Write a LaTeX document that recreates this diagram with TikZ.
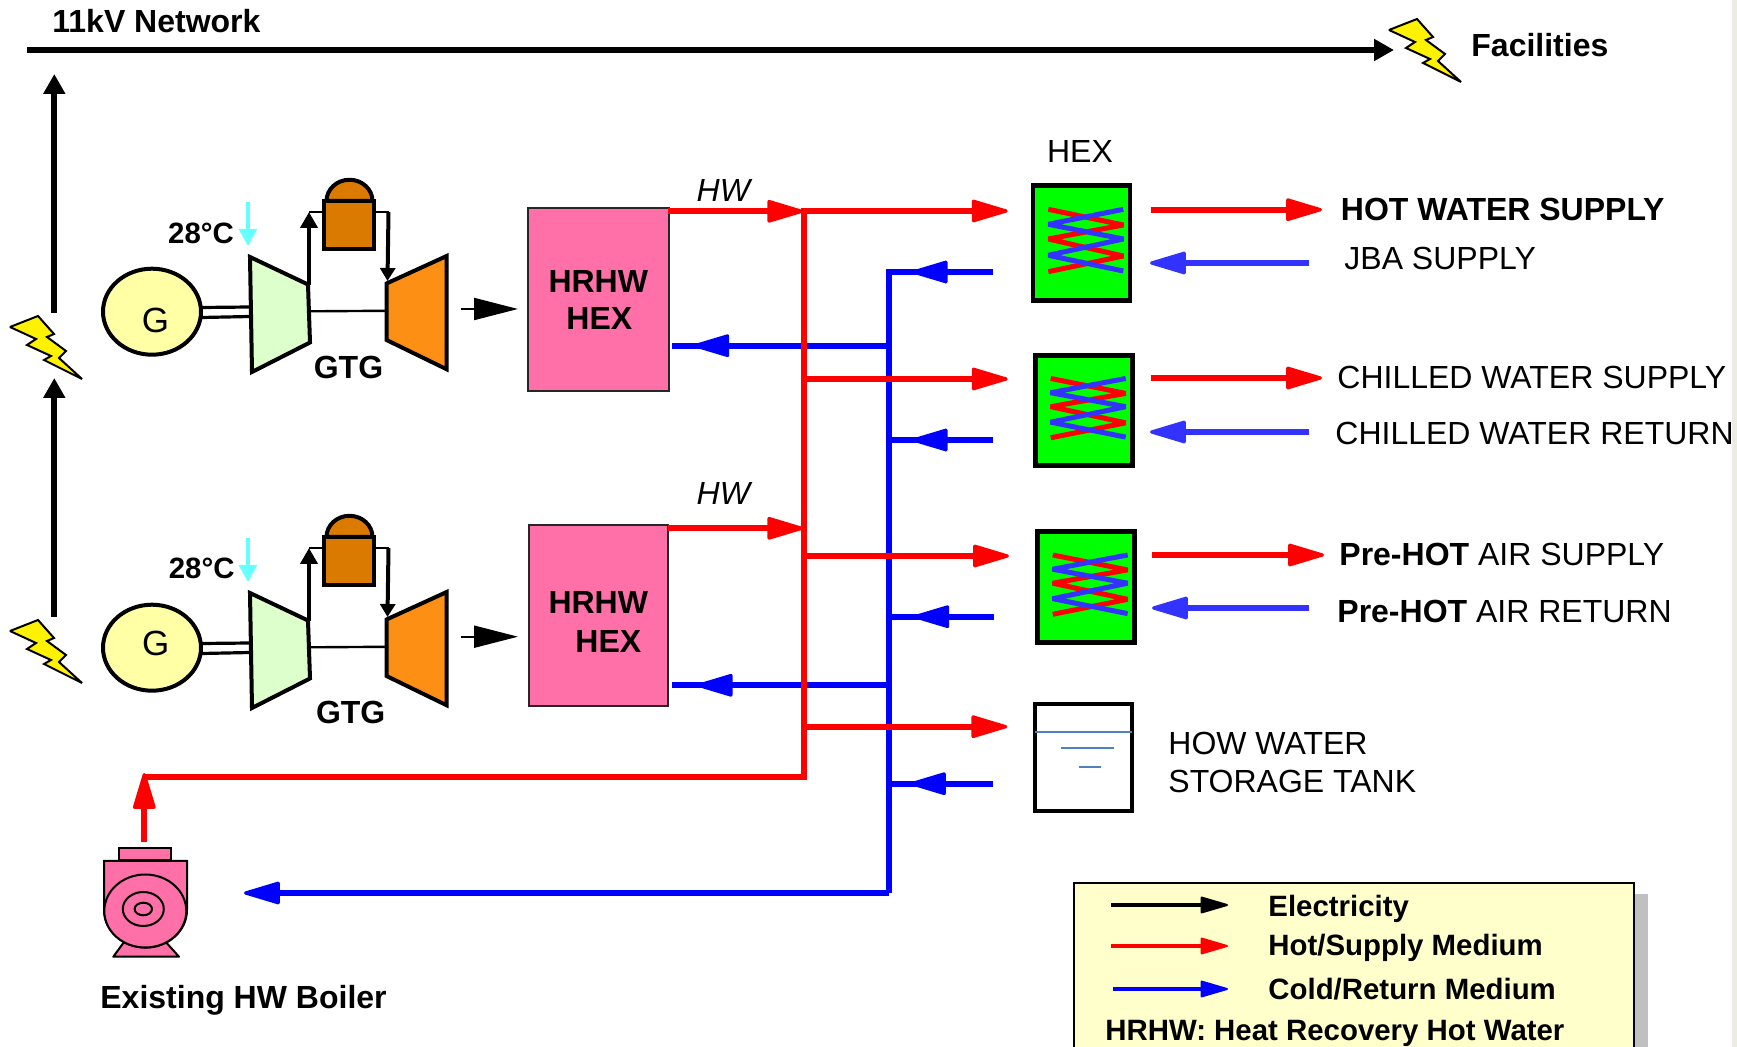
\documentclass[tikz,border=0pt]{standalone}
\usepackage{fontspec}
\setmainfont{Liberation Sans}
\usetikzlibrary{arrows.meta,shapes.geometric}
\definecolor{strip}{HTML}{EEECE1}
\definecolor{genfill}{HTML}{FFFFA6}
\definecolor{compfill}{HTML}{DDFFCC}
\definecolor{turbfill}{HTML}{FC8F14}
\definecolor{combfill}{HTML}{DA7B00}
\definecolor{pinkfill}{HTML}{FF6FA8}
\definecolor{hotred}{HTML}{FF0000}
\definecolor{pipeblue}{HTML}{0000FF}
\definecolor{softblue}{HTML}{3333FF}
\definecolor{coolair}{HTML}{66FFFF}
\definecolor{water}{HTML}{4F81BD}
\definecolor{legfill}{HTML}{FFFFCC}
\definecolor{legshadow}{HTML}{C0C0C0}
\newcommand{\fsz}[1]{\fontsize{#1}{#1}\selectfont}
\tikzset{
  bigtip/.tip={Triangle[length=20pt,width=11.5pt,line width=1.6pt,round]},
  legtip/.tip={Triangle[length=15pt,width=8.5pt,line width=1pt,round]},
  blacktip/.tip={Triangle[length=10pt,width=10.5pt]},
  smalltip/.tip={Triangle[length=8pt,width=8.5pt]},
  exhtip/.tip={Triangle[length=22pt,width=11pt]},
  coolarrow/.tip={Triangle[length=8.5pt,width=9pt]},
  hotpipe/.style={draw=hotred,line width=3pt},
  coldpipe/.style={draw=pipeblue,line width=3pt},
  softcold/.style={draw=softblue,line width=3pt},
  bus/.style={draw=black,line width=3pt},
  lbl/.style={inner sep=0pt,anchor=base west,yshift=-0.5pt,font=\fsz{16}},
  boldlbl/.style={inner sep=0pt,anchor=base west,yshift=-0.5pt,font=\fsz{16}\bfseries},
  leglbl/.style={inner sep=0pt,anchor=base west,font=\fsz{14.7}\bfseries},
  ctr/.style={inner sep=0pt,yshift=-0.5pt,font=\fsz{16}\bfseries},
  bolt/.style={draw=black,fill=yellow,line width=1pt,line join=miter,miter limit=2.5},
  pinkbox/.style={draw=black!85,fill=pinkfill,line width=1pt,rectangle,inner sep=0pt},
  hexbox/.style={draw=black,fill=green,line width=2.2pt,rectangle,inner sep=0pt,minimum width=48.5pt},
  mach/.style={draw=black,line width=2pt,line join=miter},
}
\newcommand{\boltshape}[2]{%
  \begin{scope}[shift={(#1,#2)}]
    \draw[bolt] (0,11) -- (28,0) -- (44,18) -- (37,21) -- (56,35) -- (49,42) -- (72,63) -- (34,44) -- (41,40) -- (17,29) -- (26,23) -- cycle;
  \end{scope}}
\newcommand{\gtgunit}[2]{%
  \begin{scope}[shift={(0,#2)}]
    \draw[draw=black,line width=1.6pt] (202,307.5) -- (250,307);
    \draw[draw=black,line width=1.6pt] (202,317.5) -- (250,316.5);
    \node[ellipse,draw=black,fill=genfill,line width=2pt,inner sep=0pt,minimum width=49pt,minimum height=43pt] (gen#1) at (152,311.7) {};
    \draw[mach,fill=compfill] (250,257) -- (308,284.5) -- (310,342.5) -- (252,372) -- cycle;
    \draw[draw=black,line width=1.2pt] (311,311.3) -- (386,310.8);
    \draw[mach,fill=turbfill] (386.5,283.5) -- (446.7,256) -- (446.7,369.3) -- (386.5,340) -- cycle;
    \draw[draw=black,fill=combfill,line width=2pt] (326.5,201) arc[start angle=180,end angle=0,x radius=11.5pt,y radius=10.6pt] -- cycle;
    \node[rectangle,draw=black,fill=combfill,line width=2pt,inner sep=0pt,minimum width=25pt,minimum height=24.3pt] (comb#1) at (349.4,225) {};
    \coordinate (cmpout#1) at (309,285);
    \coordinate (cmptop#1) at (309,212);
    \coordinate (trbtop#1) at (388.5,212);
    \coordinate (trbin#1) at (387.5,281);
    \draw[draw=black,line width=2.2pt,-{smalltip}] (cmpout#1) -- (cmptop#1);
    \draw[draw=black,line width=1.2pt] (cmptop#1) -- (comb#1.west |- cmptop#1);
    \draw[draw=black,line width=1.2pt] (comb#1.east |- trbtop#1) -- (trbtop#1);
    \draw[draw=black,line width=2pt,-{Triangle[length=6.5pt,width=7.5pt]}] (trbtop#1) -- (trbin#1);
    \coordinate (coolsrc#1) at (248,202);
    \coordinate (cooldst#1) at (248,246);
    \draw[draw=coolair,line width=1.6pt,-{coolarrow}] (coolsrc#1) -- (cooldst#1);
  \end{scope}}
\newcommand{\zigzag}[3]{%
  \begin{scope}[shift={(#1,#2)},yscale=#3]
    \draw[draw=hotred,line width=2.5pt,line join=bevel] (-33.3,-33.7) -- (41.7,-18) -- (-33.3,-4) -- (41.7,13) -- (-33.3,28.7);
    \draw[draw=softblue,line width=2.5pt,line join=bevel] (41.7,-33.7) -- (-33.3,-18.7) -- (41.7,-4) -- (-33.3,12.3) -- (41.7,28);
  \end{scope}}
\begin{document}
\begin{tikzpicture}[x=0.5pt,y=-0.5pt]
\useasboundingbox (0,0) rectangle (1737,1047);
\clip (0,0) rectangle (1737,1047);
\fill[white] (0,0) rectangle (1737,1047);
\fill[strip] (1732,0) rectangle (1737,1047);

% network bus
\coordinate (busL) at (27,50);
\coordinate (busR) at (1394,50);
\draw[bus,-{blacktip}] (busL) -- (busR);
\node[boldlbl] (net) at (52,32) {11kV Network};
\boltshape{1389}{19}
\node[boldlbl] (fac) at (1471,56) {Facilities};

% generator output arrows
\coordinate (g1a) at (54.3,313);
\coordinate (g1b) at (54.3,74);
\coordinate (g2a) at (54.3,616.7);
\coordinate (g2b) at (54.3,378);
\draw[bus,-{blacktip}] (g1a) -- (g1b);
\draw[bus,-{blacktip}] (g2a) -- (g2b);
\boltshape{10}{316}
\boltshape{10}{620}

% GTG units
\gtgunit{A}{0}
\gtgunit{B}{336}
\coordinate (exhsrcA) at (461,309);
\coordinate (exhdstA) at (518,309);
\draw[draw=black,line width=1pt,-{exhtip}] (exhsrcA) -- (exhdstA);
\coordinate (exhsrcB) at (461,636.7);
\coordinate (exhdstB) at (518,636.7);
\draw[draw=black,line width=1pt,-{exhtip}] (exhsrcB) -- (exhdstB);
\node[inner sep=0pt,font=\fsz{17.5}] (glA) at (155.6,320.7) {G};
\node[inner sep=0pt,font=\fsz{17.5}] (glB) at (155.7,643.3) {G};
\node[ctr,font=\fsz{14.7}\bfseries] (tA) at (201,232.7) {28°C};
\node[ctr,font=\fsz{14.7}\bfseries] (tB) at (201.7,567.7) {28°C};
\node[ctr] (gtgA) at (348.5,366) {GTG};
\node[ctr] (gtgB) at (350.7,711) {GTG};

% HRHW HEX boxes
\node[pinkbox,minimum width=70.35pt,minimum height=91.2pt] (hr1) at (598.7,299.5) {};
\node[pinkbox,minimum width=69.5pt,minimum height=90.5pt] (hr2) at (598.8,615.5) {};
\node[ctr] (hr1a) at (598.3,280) {HRHW};
\node[ctr] (hr1b) at (599.3,317.7) {HEX};
\node[ctr] (hr2a) at (598.3,601.7) {HRHW};
\node[ctr] (hr2b) at (608.3,640) {HEX};
\node[inner sep=0pt,font=\fsz{16}\itshape] (hw1) at (723.3,190) {HW};
\node[inner sep=0pt,font=\fsz{16}\itshape] (hw2) at (723.3,493) {HW};

% HEX units
\node[hexbox,minimum height=57.5pt] (x1) at (1081.6,243) {};
\node[hexbox,minimum height=55pt] (x2) at (1084,410.5) {};
\node[hexbox,minimum height=55.5pt] (x3) at (1086,587) {};
\zigzag{1081.6}{243}{1}
\zigzag{1084}{410.5}{0.95}
\zigzag{1086}{587}{0.95}
\node[inner sep=0pt,yshift=-0.5pt,font=\fsz{16}] (hexl) at (1080,150.7) {HEX};

% tank
\node[rectangle,draw=black,fill=white,line width=2pt,inner sep=0pt,minimum width=48.5pt,minimum height=53.5pt] (tank) at (1083.5,757.3) {};
\coordinate (w1a) at (1035,732); \coordinate (w1b) at (1132,732);
\coordinate (w2a) at (1061,748); \coordinate (w2b) at (1114,748);
\coordinate (w3a) at (1078.5,767); \coordinate (w3b) at (1101,767);
\draw[draw=water,line width=1pt] (w1a) -- (w1b);
\draw[draw=water,line width=1pt] (w2a) -- (w2b);
\draw[draw=water,line width=1pt] (w3a) -- (w3b);
\node[lbl] (tk1) at (1168,754) {HOW WATER};
\node[lbl] (tk2) at (1168,792) {STORAGE TANK};

% boiler
\draw[draw=black,fill=pinkfill,line width=1pt,line join=round] (123.3,943) -- (113.3,956.7) -- (179,956.7) -- (166.7,943) -- cycle;
\node[rectangle,draw=black,fill=pinkfill,line width=1pt,inner sep=0pt,minimum width=26pt,minimum height=5.8pt] (btop) at (145,854.3) {};
\draw[draw=black,fill=pinkfill,line width=1pt] (104,861) -- (187,861) -- (187,910) arc[start angle=0,end angle=-180,x radius=20.75pt,y radius=18.8pt] -- cycle;
\node[ellipse,draw=black,fill=pinkfill,line width=1pt,inner sep=0pt,minimum width=41pt,minimum height=36.5pt] (be1) at (145.3,911) {};
\node[ellipse,draw=black,fill=pinkfill,line width=1pt,inner sep=0pt,minimum width=20.5pt,minimum height=17pt] (be2) at (143.3,909) {};
\node[ellipse,draw=black,fill=pinkfill,line width=1pt,inner sep=0pt,minimum width=8.7pt,minimum height=6.3pt] (be3) at (143.3,909) {};
\node[boldlbl] (bl) at (100,1007.5) {Existing HW Boiler};

% pipe junctions
\coordinate (rT) at (804.3,208.3);
\coordinate (rB) at (804.3,780);
\coordinate (bT) at (888.7,269);
\coordinate (bB) at (888.7,893);
\coordinate (bEnd) at (244,893);
\coordinate (h1out) at (667.7,211.3);
\coordinate (h1in) at (803.3,211.3);
\coordinate (h2out) at (667.7,528.3);
\coordinate (h2in) at (803.3,528.3);

% cold network first (red crosses over it)
\draw[coldpipe] (bT) -- (bB);
\draw[coldpipe,-{bigtip}] (bB) -- (bEnd);
\foreach \yy/\xs/\xt/\xm/\nm in {272/992.7/911.7/930/a,440/992.7/911.7/930/b,616.7/994.3/913.3/932/c,783.7/992.7/910/930/d}{
  \coordinate (cs\nm) at (\xs,\yy);
  \coordinate (ct\nm) at (\xt,\yy);
  \coordinate (cm\nm) at (\xm,\yy);
  \coordinate (cj\nm) at (886,\yy);
  \draw[coldpipe] (cm\nm) -- (cj\nm);
  \draw[coldpipe,-{bigtip}] (cs\nm) -- (ct\nm);
}
\coordinate (ch1a) at (888.7,345.7);
\coordinate (ch1t) at (693.3,345.7);
\coordinate (ch1m) at (712,345.7);
\coordinate (ch1e) at (672,345.7);
\draw[coldpipe,-{bigtip}] (ch1a) -- (ch1t);
\draw[coldpipe] (ch1m) -- (ch1e);
\coordinate (ch2a) at (888.7,685.3);
\coordinate (ch2t) at (696.7,685.3);
\coordinate (ch2m) at (715,685.3);
\coordinate (ch2e) at (672,685.3);
\draw[coldpipe,-{bigtip}] (ch2a) -- (ch2t);
\draw[coldpipe] (ch2m) -- (ch2e);

% hot network
\draw[hotpipe] (rT) -- (rB);
\draw[hotpipe,-{bigtip}] (h1out) -- (h1in);
\draw[hotpipe,-{bigtip}] (h2out) -- (h2in);
\foreach \yy/\xt/\nm in {211/1007.7/a,379/1007.7/b,556/1009/c,726.7/1007.3/d}{
  \coordinate (hs\nm) at (804.3,\yy);
  \coordinate (ht\nm) at (\xt,\yy);
  \draw[hotpipe,-{bigtip}] (hs\nm) -- (ht\nm);
}
\coordinate (bo1) at (144.3,777.3);
\coordinate (bo2) at (144.3,842);
\coordinate (bo3) at (144.3,773);
\coordinate (rBh) at (804.3,777.3);
\draw[hotpipe] (rBh) -- (bo1);
\draw[hotpipe,-{bigtip}] (bo2) -- (bo3);

% process side arrows
\foreach \ya/\yb/\xa/\xb/\xc/\xd/\nm in {209.7/263/1150.7/1322/1309/1150/a,378/432/1150.7/1322/1309/1150/b,555/608/1152/1324/1309/1152/c}{
  \coordinate (pa\nm) at (\xa,\ya);
  \coordinate (pb\nm) at (\xb,\ya);
  \coordinate (pc\nm) at (\xc,\yb);
  \coordinate (pd\nm) at (\xd,\yb);
  \draw[hotpipe,-{bigtip}] (pa\nm) -- (pb\nm);
  \draw[softcold,-{bigtip}] (pc\nm) -- (pd\nm);
}
\node[boldlbl] (p1) at (1340.5,219.5) {HOT WATER SUPPLY};
\node[lbl] (p2) at (1344,269) {JBA SUPPLY};
\node[lbl] (p3) at (1337,388) {CHILLED WATER SUPPLY};
\node[lbl] (p4) at (1335,444) {CHILLED WATER RETURN};
\node[lbl] (p5) at (1339,565) {\textbf{Pre-HOT} AIR SUPPLY};
\node[lbl] (p6) at (1337,621.5) {\textbf{Pre-HOT} AIR RETURN};

% legend
\fill[legshadow] (1100,894) rectangle (1648,1100);
\node[rectangle,draw=black,fill=legfill,line width=1.2pt,inner sep=0pt,minimum width=280pt,minimum height=120pt,anchor=north west] (leg) at (1073,882) {};
\coordinate (l1a) at (1111,905); \coordinate (l1b) at (1228,905);
\coordinate (l2a) at (1111,946); \coordinate (l2b) at (1228,946);
\coordinate (l3a) at (1113,989); \coordinate (l3b) at (1228,989);
\draw[draw=black,line width=2pt,-{legtip}] (l1a) -- (l1b);
\draw[draw=hotred,line width=2pt,-{legtip}] (l2a) -- (l2b);
\draw[draw=pipeblue,line width=2pt,-{legtip}] (l3a) -- (l3b);
\node[leglbl] (ll1) at (1268,917) {Electricity};
\node[leglbl] (ll2) at (1268,955.5) {Hot/Supply Medium};
\node[leglbl] (ll3) at (1268,1000) {Cold/Return Medium};
\node[leglbl] (ll4) at (1105,1040.5) {HRHW: Heat Recovery Hot Water};
\end{tikzpicture}
\end{document}
